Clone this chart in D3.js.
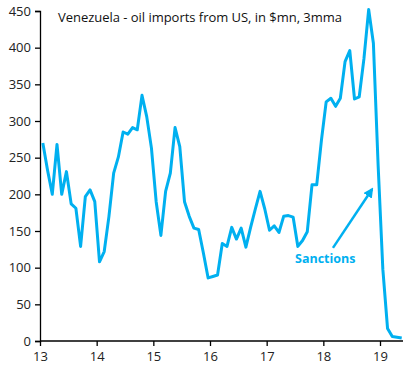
<!DOCTYPE html>
<html>
<head>
<meta charset="utf-8">
<script src="https://cdn.jsdelivr.net/npm/d3@7"></script>
<style>
  html, body { margin: 0; padding: 0; background: #fff; }
  svg { display: block; }
</style>
</head>
<body>
<script>
// monthly values, Jan 2013 onwards ($mn, 3mma)
var imports = [
  270, 233, 200, 268, 200, 231, 187, 181, 129, 197, 206, 190,
  108, 122, 170, 229, 251, 285, 282, 291, 288, 335, 306, 263,
  190, 144, 204, 229, 291, 265, 190, 170, 154, 152, 120, 86,
  88, 90, 133, 129, 155, 139, 154, 128, 155, 180, 204, 180,
  151, 157, 148, 170, 171, 169, 129, 137, 149, 213, 213, 274,
  326, 331, 320, 331, 381, 396, 330, 333, 385, 452, 406, 240,
  98, 17, 6, 5, 4
];
var startYear = 13;
var xTicks = [13, 14, 15, 16, 17, 18, 19];
var yTicks = [0, 50, 100, 150, 200, 250, 300, 350, 400, 450];
var title = "Venezuela - oil imports from US, in $mn, 3mma";
// annotation: label and arrow, in (year, value) units
var noteLabel = "Sanctions";
var noteText = [17.5, 107];
var arrowFrom = [18.17, 127];
var arrowTo = [18.86, 207];

var W = 404, H = 379;
var blue = "#00B0F0";

var svg = d3.select("body").append("svg")
    .attr("width", W)
    .attr("height", H);

var x = d3.scaleLinear().domain([13, 13 + 363 / 56.667]).range([40, 403]);
var y = d3.scaleLinear().domain([0, 450]).range([341, 11]);

svg.append("defs").append("marker")
    .attr("id", "head")
    .attr("viewBox", "0 0 10 10")
    .attr("refX", 8)
    .attr("refY", 5)
    .attr("markerWidth", 4)
    .attr("markerHeight", 4)
    .attr("orient", "auto")
  .append("path")
    .attr("d", "M0,0 L10,5 L0,10 z")
    .attr("fill", blue);

var yAxis = svg.append("g")
    .attr("transform", "translate(40,0)")
    .call(d3.axisLeft(y).tickValues(yTicks).tickSize(5).tickPadding(4));

var xAxis = svg.append("g")
    .attr("transform", "translate(0,341)")
    .call(d3.axisBottom(x).tickValues(xTicks).tickSize(5).tickPadding(6).tickFormat(d3.format("d")));

[yAxis, xAxis].forEach(function (g) {
  g.select(".domain").attr("stroke", "#000").attr("stroke-width", 1.3);
  g.selectAll(".tick line").attr("stroke", "#000").attr("stroke-width", 1.3);
  g.selectAll("text")
      .attr("fill", "#222")
      .style("font-family", "'Open Sans', sans-serif")
      .style("font-size", "13px");
});
xAxis.select(".domain").attr("d", "M40,0H403");

var line = d3.line()
    .x(function (d, i) { return x(startYear + (i + 0.6) / 12); })
    .y(function (d) { return y(d); });

svg.append("path")
    .datum(imports)
    .attr("d", line)
    .attr("fill", "none")
    .attr("stroke", blue)
    .attr("stroke-width", 3)
    .attr("stroke-linejoin", "round");

svg.append("text")
    .attr("x", 58)
    .attr("y", 22)
    .attr("fill", "#111")
    .style("font-family", "'Open Sans', sans-serif")
    .style("font-size", "13px")
    .attr("textLength", 284)
    .text(title);

svg.append("text")
    .attr("x", x(noteText[0]))
    .attr("y", y(noteText[1]))
    .attr("fill", blue)
    .style("font-family", "'Open Sans', sans-serif")
    .style("font-size", "12.5px")
    .style("font-weight", "bold")
    .text(noteLabel);

svg.append("line")
    .attr("x1", x(arrowFrom[0]))
    .attr("y1", y(arrowFrom[1]))
    .attr("x2", x(arrowTo[0]))
    .attr("y2", y(arrowTo[1]))
    .attr("stroke", blue)
    .attr("stroke-width", 2.5)
    .attr("marker-end", "url(#head)");
</script>
</body>
</html>
